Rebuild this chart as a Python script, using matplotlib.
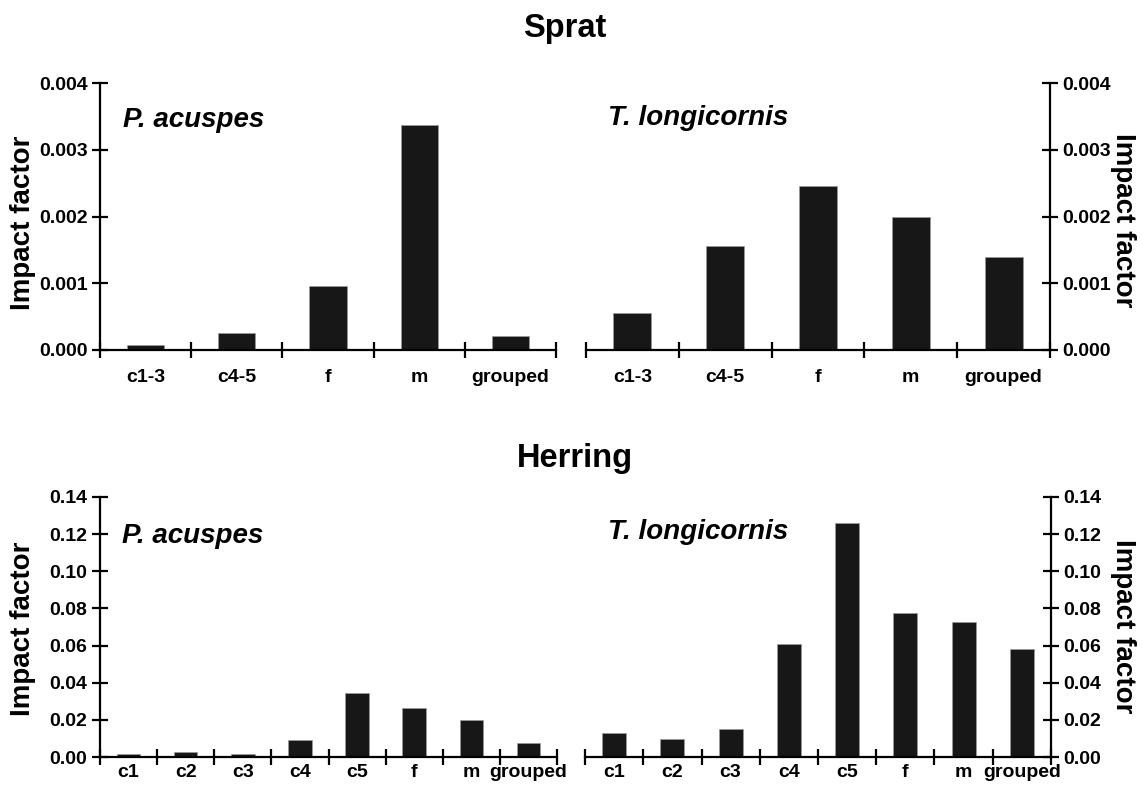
import numpy as np
import matplotlib
matplotlib.use("Agg")
import matplotlib.pyplot as plt

plt.rcParams['font.family'] = ['Liberation Sans', 'DejaVu Sans']
plt.rcParams['font.weight'] = 'bold'

# Sprat: impact factor by copepod stage
sprat_stages = ["c1-3", "c4-5", "f", "m", "grouped"]
sprat_pacuspes = [0.00008, 0.00025, 0.00096, 0.00337, 0.00021]
sprat_tlongicornis = [0.00056, 0.00156, 0.00245, 0.00199, 0.00140]
sprat_ticks = [0.000, 0.001, 0.002, 0.003, 0.004]
sprat_ticklabels = ["0.000", "0.001", "0.002", "0.003", "0.004"]

# Herring: impact factor by copepod stage
herring_stages = ["c1", "c2", "c3", "c4", "c5", "f", "m", "grouped"]
herring_pacuspes = [0.0016, 0.0025, 0.0016, 0.0090, 0.0342, 0.0265, 0.0197, 0.0073]
herring_tlongicornis = [0.0131, 0.0099, 0.0152, 0.0606, 0.1258, 0.0776, 0.0728, 0.0581]
herring_ticks = [0.00, 0.02, 0.04, 0.06, 0.08, 0.10, 0.12, 0.14]
herring_ticklabels = ["0.00", "0.02", "0.04", "0.06", "0.08", "0.10", "0.12", "0.14"]

W, H = 1142, 787
fig = plt.figure(figsize=(W / 100, H / 100), dpi=100)
fig.patch.set_facecolor("white")

BAR_COLOR = "#171717"
AX_LW = 1.6


def px_axes(x0, x1, ytop, ybot):
    return fig.add_axes([x0 / W, 1 - ybot / H, (x1 - x0) / W, (ybot - ytop) / H])


def style_panel(ax, stages, values, ticks, ticklabels, side, label_pad):
    n = len(stages)
    x = np.arange(n)
    ax.bar(x, values, width=0.41, color=BAR_COLOR, edgecolor="#9a9a9a", linewidth=0.5)
    ax.set_xlim(-0.5, n - 0.5)
    ax.set_ylim(ticks[0], ticks[-1])
    ax.set_xticks(np.arange(n + 1) - 0.5)
    ax.set_xticklabels([""] * (n + 1))
    ax.set_xticks(x, minor=True)
    ax.set_xticklabels(stages, minor=True, fontsize=14, fontweight="bold")
    ax.tick_params(axis="x", which="major", direction="inout", length=12, width=AX_LW)
    ax.tick_params(axis="x", which="minor", length=0, pad=label_pad)
    ax.set_yticks(ticks)
    ax.set_yticklabels(ticklabels, fontsize=14, fontweight="bold")
    ax.tick_params(axis="y", direction="inout", length=12, width=AX_LW, pad=3)
    for s in ["top", "left", "right", "bottom"]:
        ax.spines[s].set_visible(False)
    ax.spines["bottom"].set_visible(True)
    ax.spines["bottom"].set_linewidth(AX_LW)
    if side == "left":
        ax.spines["left"].set_visible(True)
        ax.spines["left"].set_linewidth(AX_LW)
        ax.yaxis.set_ticks_position("left")
    else:
        ax.spines["right"].set_visible(True)
        ax.spines["right"].set_linewidth(AX_LW)
        ax.yaxis.set_ticks_position("right")
        ax.yaxis.set_label_position("right")
    ax.set_facecolor("none")


# Sprat panels
ax1 = px_axes(100, 556, 83, 350)
style_panel(ax1, sprat_stages, sprat_pacuspes, sprat_ticks, sprat_ticklabels, "left", 14)
ax2 = px_axes(586, 1050, 83, 350)
style_panel(ax2, sprat_stages, sprat_tlongicornis, sprat_ticks, sprat_ticklabels, "right", 14)

# Herring panels
ax3 = px_axes(100, 557, 497, 757)
style_panel(ax3, herring_stages, herring_pacuspes, herring_ticks, herring_ticklabels, "left", 5)
ax4 = px_axes(585, 1051, 497, 757)
style_panel(ax4, herring_stages, herring_tlongicornis, herring_ticks, herring_ticklabels, "right", 5)


def fig_text(x, y, s, **kw):
    fig.text(x / W, 1 - y / H, s, **kw)


fig_text(565, 37, "Sprat", fontsize=23.5, fontweight="bold", ha="center", va="baseline")
fig_text(575, 467, "Herring", fontsize=23.5, fontweight="bold", ha="center", va="baseline")

for y_c in (223, 629):
    fig_text(23, y_c, "Impact factor", fontsize=20, fontweight="bold",
             rotation=90, ha="center", va="center")
for y_c in (220, 626):
    fig_text(1123, y_c, "Impact factor", fontsize=20, fontweight="bold",
             rotation=-90, ha="center", va="center")

fig_text(123, 127, "P. acuspes", fontsize=20, fontweight="bold", style="italic",
         ha="left", va="baseline")
fig_text(608, 125, "T. longicornis", fontsize=20, fontweight="bold", style="italic",
         ha="left", va="baseline")
fig_text(122, 543, "P. acuspes", fontsize=20, fontweight="bold", style="italic",
         ha="left", va="baseline")
fig_text(608, 539, "T. longicornis", fontsize=20, fontweight="bold", style="italic",
         ha="left", va="baseline")

fig.savefig("out.png", dpi=100, facecolor="white")
